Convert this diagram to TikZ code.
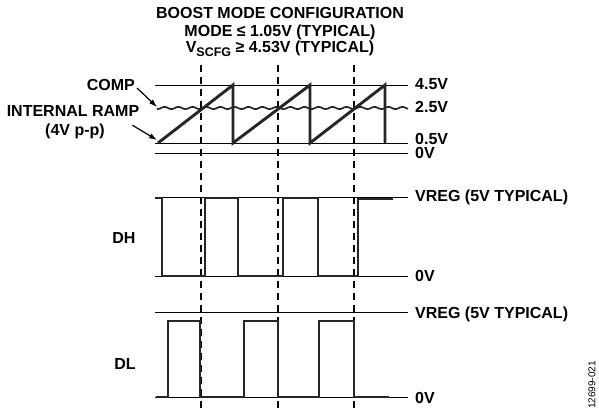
\documentclass[tikz,border=0pt]{standalone}
\usepackage{fontspec}
\setmainfont{Liberation Sans}
\usetikzlibrary{arrows.meta,calc}

\begin{document}
\begin{tikzpicture}[x=1pt,y=-1pt,
        lbl/.style={font=\bfseries\fontsize{16}{18}\selectfont,inner sep=0pt},
        level/.style={line width=0.9pt},
        wave/.style={line width=2.9pt,line join=miter,black!85},
        tick/.style={line width=1.1pt,dash pattern=on 7pt off 5pt},
        ptr/.style={line width=1.2pt,-{Latex[length=8pt,width=5.5pt]}}]
        \useasboundingbox (0,0) rectangle (599,411);
        \node[lbl,anchor=base] (t1) at (280,19) {BOOST MODE CONFIGURATION};
        \node[lbl,anchor=base] (t2) at (280,37) {MODE ≤ 1.05V (TYPICAL)};
        \node[lbl,anchor=base] (t3) at (280,53) {V{\fontsize{12.5}{12}\selectfont\raisebox{-3.5pt}{SCFG}} ≥ 4.53V (TYPICAL)};
        % switching instants
        \foreach \x in {201,278,354} \draw[tick] (\x,65) -- (\x,411);
        % reference levels and their labels
        \foreach \y/\b/\txt in {85/90/4.5V,143/145/0.5V,153/159/0V,197/202/VREG (5V TYPICAL),276/282/0V,312/318/VREG (5V TYPICAL),397/403/0V}{
          \draw[level] (155,\y) -- (408,\y);
          \node[lbl,anchor=base west] (lv\b) at (415,\b) {\txt};
        }
        \node[lbl,anchor=base west] (lv113) at (415,113) {2.5V};
        % comp and ramp
        \draw[line width=1.7pt,black!85] plot[domain=157:408,samples=150,smooth] (\x,{108+1.1*sin(\x/14*360)});
        \draw[wave] (158,143) -- (233,85) -- (233,143) -- (310,85) -- (310,143) -- (385,85) -- (385,143);
        \node[lbl,anchor=east] (comp) at (135,85) {COMP};
        \node[lbl,anchor=base] (ramp) at (73,117) {INTERNAL RAMP};
        \node[lbl,anchor=base] (pp) at (75,136) {(4V p-p)};
        \coordinate (comptip) at (157,107);
        \coordinate (ramptip) at (157,140);
        \draw[ptr] ($(comp.east)+(2,3)$) -- (comptip);
        \draw[ptr] ($(ramp.south east)+(-7,8)$) -- (ramptip);
        % DH
        \node[lbl] (dh) at (124,237.5) {DH};
        \draw[wave] (155,198) -- (162,198) -- (162,276) -- (205,276) -- (205,198) -- (238,198) -- (238,276) -- (283,276) -- (283,198) -- (318,198) -- (318,276) -- (358,276) -- (358,199) -- (393,199);
        % DL
        \node[lbl] (dl) at (125,364) {DL};
        \draw[wave] (156,397) -- (168,397) -- (168,321) -- (200,321) -- (200,397) -- (244,397) -- (244,321) -- (278,321) -- (278,397) -- (319,397) -- (319,321) -- (354,321) -- (354,397) -- (389,397);
        \node[rotate=90,font=\fontsize{10}{10}\selectfont,inner sep=0pt] (fig) at (592,385) {12699-021};
      \end{tikzpicture}
\end{document}
